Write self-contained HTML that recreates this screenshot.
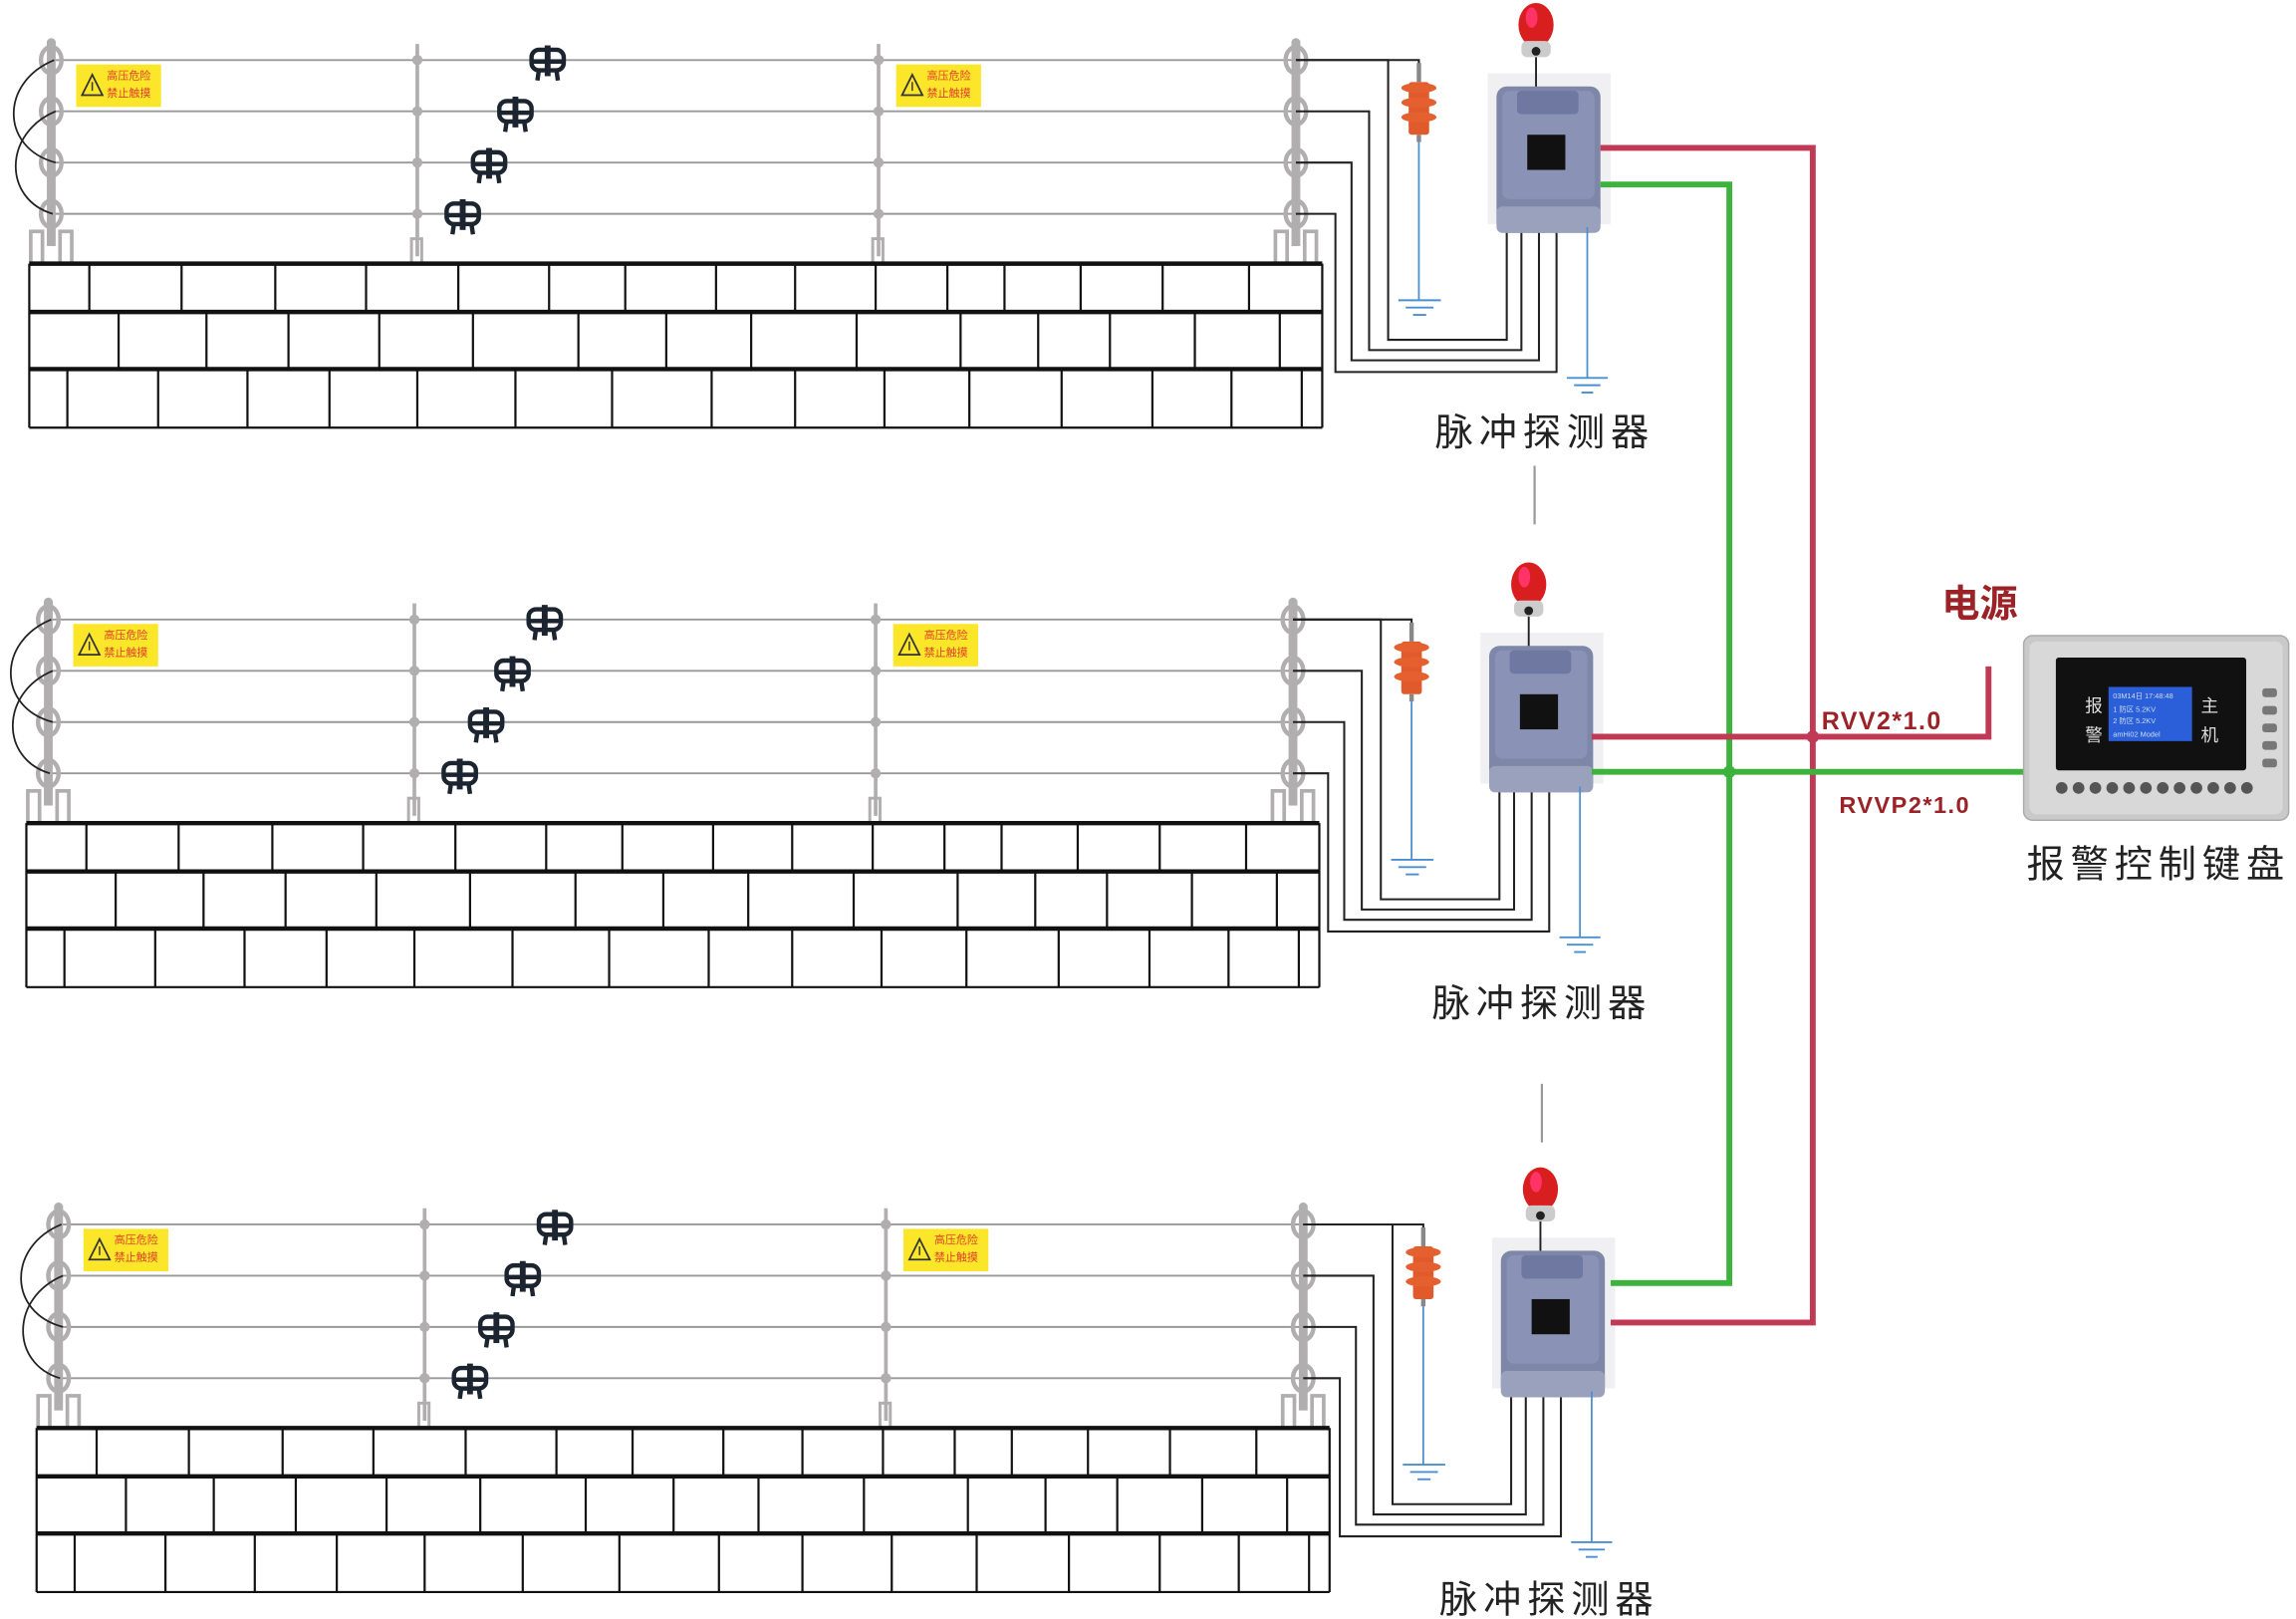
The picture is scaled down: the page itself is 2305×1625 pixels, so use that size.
<!DOCTYPE html>
<html><head><meta charset="utf-8"><style>
html,body{margin:0;padding:0;background:#fff;}
svg{display:block;}
text{font-family:"Liberation Sans","Noto Sans CJK SC",sans-serif;}
</style></head><body>
<svg id="s" width="2305" height="1625" viewBox="0 0 1568 1105.4" preserveAspectRatio="none" xmlns="http://www.w3.org/2000/svg">
<rect width="1568" height="1106" fill="#fff"/>
<g id="g"></g>
<!-- signs text -->
<g font-size="7.5" fill="#e0402a" font-family="Noto Sans CJK SC, sans-serif">
<text x="73" y="54">高压危险</text><text x="73" y="66">禁止触摸</text>
<text x="633" y="54">高压危险</text><text x="633" y="66">禁止触摸</text>
<text x="71" y="436">高压危险</text><text x="71" y="448">禁止触摸</text>
<text x="631" y="436">高压危险</text><text x="631" y="448">禁止触摸</text>
<text x="78" y="849">高压危险</text><text x="78" y="861">禁止触摸</text>
<text x="638" y="849">高压危险</text><text x="638" y="861">禁止触摸</text>
</g>
<g font-size="26" fill="#222" font-family="Noto Serif CJK SC, serif" letter-spacing="4">
<text x="980" y="304">脉冲探测器</text>
<text x="978" y="694">脉冲探测器</text>
<text x="983" y="1101">脉冲探测器</text>
<text x="1384" y="599">报警控制键盘</text>
</g>
<text x="1326" y="421" font-size="26" font-weight="bold" fill="#9b2226" font-family="Noto Sans CJK SC, sans-serif">电源</text>
<text x="1244" y="498" font-size="17" font-weight="bold" fill="#9b2226" letter-spacing="1">RVV2*1.0</text>
<text x="1256" y="555" font-size="16" font-weight="bold" fill="#9b2226" letter-spacing="1">RVVP2*1.0</text>
<!-- keypad -->
<rect x="1382" y="434" width="181" height="126" rx="6" fill="#c9c9c9" stroke="#aaa"/>
<rect x="1386" y="438" width="173" height="118" rx="5" fill="#d8d8d8"/>
<rect x="1404" y="449" width="130" height="77" rx="2" fill="#111"/>
<rect x="1440" y="469" width="57" height="37" fill="#2b5fd9"/>
<g font-size="5" fill="#cde"><text x="1443" y="477">03M14日 17:48:48</text><text x="1443" y="486">1 防区 5.2KV</text><text x="1443" y="494">2 防区 5.2KV</text><text x="1443" y="503">amHi02 Model</text></g>
<g font-size="12" fill="#ddd" font-family="Noto Sans CJK SC, sans-serif"><text x="1424" y="486">报</text><text x="1424" y="506">警</text><text x="1503" y="486">主</text><text x="1503" y="506">机</text></g>
<g id="kp"></g>
</svg>
<script>
var NS="http://www.w3.org/2000/svg",G=document.getElementById('g');
function el(t,a,p){var e=document.createElementNS(NS,t);for(var k in a)e.setAttribute(k,a[k]);(p||G).appendChild(e);return e;}
function L(x1,y1,x2,y2,c,w){return el('line',{x1:x1,y1:y1,x2:x2,y2:y2,stroke:c,'stroke-width':w||1});}
function P(d,c,w,f){return el('path',{d:d,stroke:c,'stroke-width':w||1,fill:f||'none'});}
var r1=[61,124,188,250,313,375,427,489,543,598,647,686,738,794,853],
r2=[81,141,197,259,323,395,455,513,585,656,709,758,816,874],
r3=[46,108,169,225,285,352,418,486,543,604,662,725,787,841,889];
function section(dx,dy,cdx){
 var W=[41,76,111,146].map(function(y){return y+dy;});
 var gray='#b0aeae';
 // wires
 W.forEach(function(y){L(35+dx,y,888+dx,y,'#999',1.3);});
 // end posts
 [35,885].forEach(function(px){
  px+=dx;
  el('rect',{x:px-3,y:28+dy,width:6,height:140,fill:gray});
  W.forEach(function(y){el('ellipse',{cx:px,cy:y,rx:7,ry:9,fill:'none',stroke:gray,'stroke-width':3});});
  el('rect',{x:px-14,y:158+dy,width:8,height:22,fill:'none',stroke:gray,'stroke-width':2.5});
  el('rect',{x:px+6,y:158+dy,width:8,height:22,fill:'none',stroke:gray,'stroke-width':2.5});
  el('rect',{x:px-3,y:26+dy,width:6,height:8,rx:3,fill:gray});
 });
 // mid posts
 [285,600].forEach(function(px){px+=dx;
  L(px,30+dy,px,175+dy,gray,2.5);
  W.forEach(function(y){el('circle',{cx:px,cy:y,r:3.5,fill:gray});});
  el('rect',{x:px-4,y:163+dy,width:7,height:17,fill:'none',stroke:gray,'stroke-width':2});
 });
 // left jumper wires
 P('M'+(37+dx)+' '+W[0]+' C'+(0+dx)+' '+(W[0]+15)+' '+(0+dx)+' '+(W[2]-10)+' '+(38+dx)+' '+W[2],'#222',1.2);
 P('M'+(38+dx)+' '+W[1]+' C'+(2+dx)+' '+(W[1]+15)+' '+(2+dx)+' '+(W[3]-10)+' '+(36+dx)+' '+W[3],'#222',1.2);
 // signs
 [52,612].forEach(function(sx){sx+=dx;
  el('rect',{x:sx,y:44+dy,width:58,height:29,fill:'#fbe62a'});
  P('M'+(sx+11)+' '+(51+dy)+' L'+(sx+4)+' '+(65+dy)+' L'+(sx+18)+' '+(65+dy)+' Z','#333',1.2);
  L(sx+11,56+dy,sx+11,62+dy,'#333',1);
 });
 // insulators
 [[374,42],[352,77],[334,112],[316,147]].forEach(function(p){var x=p[0]+dx,y=p[1]+dy;
  el('rect',{x:x-11,y:y-8,width:22,height:14,rx:5,fill:'none',stroke:'#1c2430','stroke-width':3});
  L(x,y-11,x,y+10,'#1c2430',4);L(x-10,y,x+10,y,'#1c2430',3);
  P('M'+(x-6)+' '+(y+6)+' L'+(x-7)+' '+(y+13)+' M'+(x+6)+' '+(y+6)+' L'+(x+7)+' '+(y+13),'#1c2430',3);
 });
 // wall
 var wx0=20+dx,wx1=903+dx,t=180+dy;
 L(wx0,t,wx1,t,'#111',3);L(wx0,t+33,wx1,t+33,'#111',3);L(wx0,t+72,wx1,t+72,'#111',3);L(wx0,t+112,wx1,t+112,'#111',1.5);
 L(wx0,t,wx0,t+112,'#111',1.5);L(wx1,t,wx1,t+112,'#111',1.5);
 r1.forEach(function(x){L(x+dx,t,x+dx,t+33,'#111',1.5);});
 r2.forEach(function(x){L(x+dx,t+33,x+dx,t+72,'#111',1.5);});
 r3.forEach(function(x){L(x+dx,t+72,x+dx,t+112,'#111',1.5);});
 // black wires to controller
 var c=cdx;
 var vx=[948,935,923,912],by=[232,239,246,254],tx=[1029,1039,1051,1063];
 P('M'+(885+dx)+' '+W[0]+' H'+(969+c)+' V'+(52+dy),'#222',1.4);
 for(var i=0;i<4;i++){P('M'+(885+dx)+' '+W[i]+' H'+(vx[i]+c)+' V'+(by[i]+dy)+' H'+(tx[i]+c)+' V'+(153+dy),'#222',1.4);}
 // surge arrester
 L(969+c,43+dy,969+c,56+dy,'#888',3);
 el('rect',{x:962+c,y:56+dy,width:14,height:36,rx:2,fill:'#e05a2b'});
 [60,70,80].forEach(function(o){el('ellipse',{cx:969+c,cy:o+dy,rx:12,ry:3.5,fill:'#e4612f'});});
 L(969+c,92+dy,969+c,97+dy,'#888',3);
 L(969+c,97+dy,969+c,205+dy,'#4a8fd0',1.2);
 L(955+c,205+dy,984+c,205+dy,'#4a8fd0',1.3);L(960+c,210+dy,979+c,210+dy,'#4a8fd0',1.3);L(965+c,215+dy,974+c,215+dy,'#4a8fd0',1.3);
 // controller
 el('rect',{x:1016+c,y:50+dy,width:84,height:103,fill:'#f0f0f3'});
 L(1049+c,38+dy,1049+c,60+dy,'#222',1.3);
 el('rect',{x:1022+c,y:59+dy,width:71,height:100,rx:7,fill:'#7e87a8'});
 el('rect',{x:1026+c,y:62+dy,width:63,height:74,rx:5,fill:'#8a93b6'});
 el('rect',{x:1036+c,y:62+dy,width:42,height:16,rx:3,fill:'#6f78a0'});
 el('rect',{x:1043+c,y:92+dy,width:26,height:24,fill:'#111'});
 el('rect',{x:1022+c,y:141+dy,width:71,height:18,rx:4,fill:'#9aa1bd'});
 // alarm light
 el('ellipse',{cx:1049+c,cy:17+dy,rx:12,ry:15,fill:'#d81e1e'});
 el('ellipse',{cx:1046+c,cy:12+dy,rx:4,ry:7,fill:'#f36'});
 el('rect',{x:1039+c,y:28+dy,width:20,height:11,rx:4,fill:'#ccc'});
 el('circle',{cx:1049+c,cy:35+dy,r:3,fill:'#222'});
 // controller ground
 L(1084+c,155+dy,1084+c,258+dy,'#4a8fd0',1.2);
 L(1070+c,258+dy,1098+c,258+dy,'#4a8fd0',1.3);L(1075+c,263+dy,1093+c,263+dy,'#4a8fd0',1.3);L(1080+c,268+dy,1088+c,268+dy,'#4a8fd0',1.3);
}
section(0,0,0);
section(-2,382,-5);
section(5,795,3);
// gray separators
L(1048,318,1048,358,'#999',1.5);L(1053,740,1053,780,'#999',1.5);
// red/green buses
var R='#c03a56',Gr='#3db33d';
P('M1093 101 H1238 V903 H1100',R,4);
P('M1093 126 H1181 V876 H1100',Gr,4);
P('M1087 503 H1358 V455',R,4);
P('M1087 527 H1382',Gr,4);
el('circle',{cx:1238,cy:503,r:3.5,fill:'none',stroke:R,'stroke-width':1.5});
el('circle',{cx:1181,cy:527,r:3.5,fill:'none',stroke:Gr,'stroke-width':1.5});
// keypad buttons
var K=document.getElementById('kp');
for(var i=0;i<12;i++){el('circle',{cx:1408+i*11.5,cy:538,r:4,fill:'#555'},K);}
for(var j=0;j<5;j++){el('rect',{x:1545,y:470+j*12,width:10,height:6,rx:2,fill:'#777'},K);}
</script>
</body></html>
